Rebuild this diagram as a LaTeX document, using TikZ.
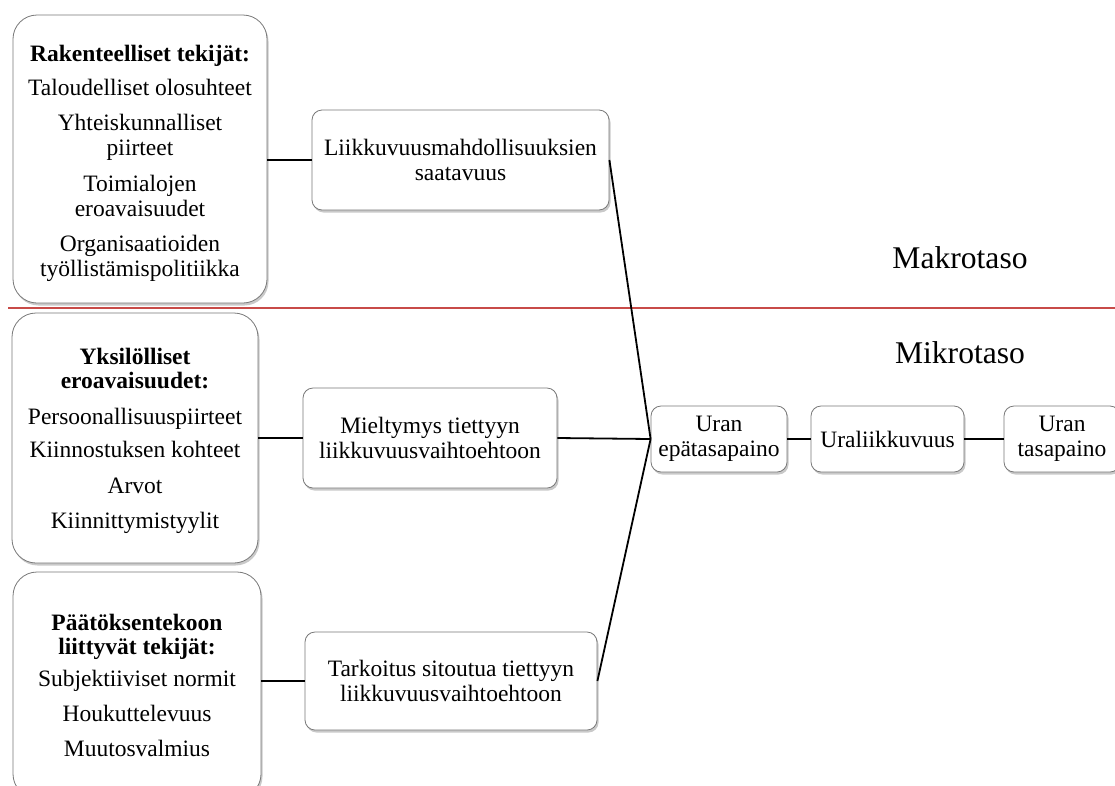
\documentclass[tikz,border=0pt]{standalone}
\usepackage{fontspec}
\setmainfont{Liberation Serif}
\usetikzlibrary{shadows}
\definecolor{boxgray}{RGB}{120,120,120}
\definecolor{sepred}{RGB}{200,75,72}
\tikzset{
  boxfont/.style={font=\fontsize{23.5}{24.5}\selectfont, align=center, inner sep=0pt},
  basebox/.style={draw=boxgray, line width=0.8pt, fill=white, boxfont,
    drop shadow={shadow xshift=1.5pt, shadow yshift=-2.5pt, opacity=0.35, fill=black!60}},
  bigbox/.style={basebox, rounded corners=24pt},
  smallbox/.style={basebox, rounded corners=10pt},
  conn/.style={draw=black, line width=1.8pt},
  seprule/.style={draw=sepred, line width=2pt},
  levellabel/.style={font=\fontsize{31.6}{32}\selectfont, inner sep=0pt, anchor=base}
}
\begin{document}
\begin{tikzpicture}[x=1pt, y=-1pt]
\useasboundingbox (0,0) rectangle (1115,785);
\clip (0,0) rectangle (1115,785);
\fill[white] (0,0) rectangle (1115,785);

% separator
\draw[seprule] (8,308) -- (1115,308);

% left boxes
\node[bigbox, minimum width=254pt, minimum height=288pt] (b1) at (140,159) {};
\node[boxfont] (b1t) at (140,163.5)
  {\textbf{Rakenteelliset tekijät:}\\[9pt]
   Taloudelliset olosuhteet\\[11pt]
   Yhteiskunnalliset\\ piirteet\\[12pt]
   Toimialojen\\ eroavaisuudet\\[11pt]
   Organisaatioiden\\ työllistämispolitiikka};

\node[bigbox, minimum width=246pt, minimum height=250pt] (b3) at (135,438) {};
\node[boxfont] (b3t) at (135,441)
  {\textbf{Yksilölliset}\\ \textbf{eroavaisuudet:}\\[11pt]
   Persoonallisuuspiirteet\\[9pt]
   Kiinnostuksen kohteet\\[11pt]
   Arvot\\[11pt]
   Kiinnittymistyylit};

\node[bigbox, minimum width=248pt, minimum height=226pt] (b5) at (137,685)
  {\textbf{Päätöksentekoon}\\ \textbf{liittyvät tekijät:}\\[7pt]
   Subjektiiviset normit\\[11pt]
   Houkuttelevuus\\[10pt]
   Muutosvalmius};

% middle boxes
\node[smallbox, minimum width=297pt, minimum height=100pt] (m1) at (460.5,160)
  {Liikkuvuusmahdollisuuksien\\ saatavuus};
\node[smallbox, minimum width=254pt, minimum height=100pt] (m2) at (430,438)
  {Mieltymys tiettyyn\\ liikkuvuusvaihtoehtoon};
\node[smallbox, minimum width=292pt, minimum height=98pt] (m3) at (451,681)
  {Tarkoitus sitoutua tiettyyn\\ liikkuvuusvaihtoehtoon};

% right chain
\node[smallbox, minimum width=136pt, minimum height=66pt] (u1) at (719,439)
  {Uran\\ epätasapaino};
\node[smallbox, minimum width=153pt, minimum height=66pt] (u2) at (887.5,439)
  {Uraliikkuvuus};
\node[smallbox, minimum width=116pt, minimum height=66pt] (u3) at (1062,439)
  {Uran\\ tasapaino};

% level labels
\node[levellabel] (makro) at (960,268) {Makrotaso};
\node[levellabel] (mikro) at (960,363) {Mikrotaso};

% connectors
\draw[conn] (b1.east |- m1.west) -- (m1.west);
\draw[conn] (b3.east) -- (m2.west);
\draw[conn] (b5.east |- m3.west) -- (m3.west);
\draw[conn] (m1.east) -- (u1.west);
\draw[conn] (m2.east) -- (u1.west);
\draw[conn] (m3.east) -- (u1.west);
\draw[conn] (u1.east) -- (u2.west);
\draw[conn] (u2.east) -- (u3.west);
\end{tikzpicture}
\end{document}
